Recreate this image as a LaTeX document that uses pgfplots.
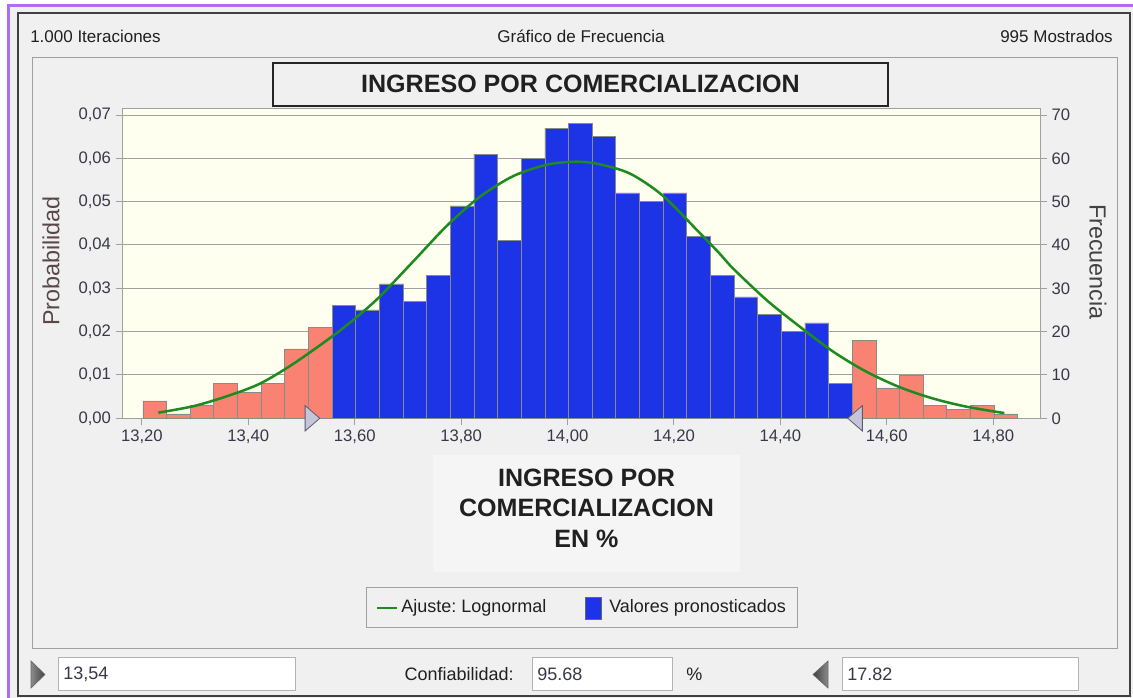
\documentclass[border=0pt]{standalone}
\usepackage{pgfplots}
\pgfplotsset{compat=1.18}
\usepackage{pgfplotstable}
\usepackage{fontspec}
\setmainfont{Liberation Sans}
\frenchspacing
\definecolor{bg}{HTML}{F0F0F0}
\definecolor{xlbg}{HTML}{F5F5F5}
\definecolor{plotbg}{HTML}{FFFFF0}
\definecolor{gridc}{HTML}{A0A0A0}
\definecolor{salmon}{HTML}{F98272}
\definecolor{barblue}{HTML}{1C33E6}
\definecolor{baredge}{HTML}{8A8A8A}
\definecolor{fitgreen}{HTML}{1F8A1F}
\definecolor{purp}{HTML}{B06CF0}
\definecolor{tickc}{HTML}{383848}
\definecolor{txt}{HTML}{202020}
\definecolor{probc}{HTML}{5A4848}
\definecolor{trifill}{HTML}{C4C4DA}
\definecolor{tridraw}{HTML}{5C5C6C}
\newcommand\hdr{\fontsize{12.75}{15}\selectfont}
\newcommand\ttl{\fontsize{18.8}{22}\selectfont\bfseries}
\newcommand\tck{\fontsize{12.5}{14}\selectfont}
\newcommand\lab{\fontsize{17.5}{20}\selectfont}
\newcommand\leg{\fontsize{13.5}{16}\selectfont}

% histogram bins (left edge, frequency); last row = right edge
\pgfplotstableread{
x y
13.2020 4
13.2464 1
13.2909 3
13.3353 8
13.3798 6
13.4242 8
13.4686 16
13.5131 21
13.5575 21
}\lefttail
\pgfplotstableread{
x y
13.5575 26
13.6020 25
13.6464 31
13.6908 27
13.7353 33
13.7797 49
13.8242 61
13.8686 41
13.9130 60
13.9575 67
14.0019 68
14.0464 65
14.0908 52
14.1352 50
14.1797 52
14.2241 42
14.2686 33
14.3130 28
14.3574 24
14.4019 20
14.4463 22
14.4908 8
14.5352 8
}\middata
\pgfplotstableread{
x y
14.5352 18
14.5796 7
14.6241 10
14.6685 3
14.7130 2
14.7574 3
14.8018 1
14.8463 1
}\righttail
\pgfplotstableread{
x y
13.231 1.3
13.297 2.8
13.360 5.1
13.422 8.0
13.485 12.6
13.561 19.2
13.610 24.0
13.648 28.2
13.710 36.2
13.773 44.4
13.835 51.1
13.898 55.9
13.960 58.5
14.010 59.2
14.054 58.8
14.117 56.5
14.179 51.4
14.242 43.6
14.286 38.0
14.311 34.6
14.374 27.3
14.436 21.2
14.499 15.4
14.561 10.8
14.624 7.2
14.686 4.6
14.749 2.7
14.821 1.2
}\fitdata

\begin{document}
\begin{tikzpicture}
\begin{scope}[x=0.75pt,y=-0.75pt]
\path[use as bounding box] (0,0) rectangle (1133,698);
\fill[white] (0,0) rectangle (1133,698);
\fill[bg] (10,7) rectangle (1133,698);
\fill[purp] (7,4) rectangle (1133,7);
\fill[purp] (7,4) rectangle (10,698);
\draw[black!75, line width=1.1pt] (18,13) rectangle (1130,696);
\draw[gridc, line width=0.75pt] (32,58) rectangle (1117,649);
% header
\node[inner sep=0pt, anchor=base west, font=\hdr, text=txt] at (30,43) {1.000 Iteraciones};
\node[inner sep=0pt, anchor=base, font=\hdr, text=txt] at (581,43) {Gráfico de Frecuencia};
\node[inner sep=0pt, anchor=base east, font=\hdr, text=txt] at (1113,43) {995 Mostrados};
% title box
\draw[black!85, line width=1.3pt, fill=bg] (273,63) rectangle (888,106);
\node[inner sep=0pt, anchor=base, font=\ttl, text=txt] at (580.5,92.5) {INGRESO POR COMERCIALIZACION};
% x label
\fill[xlbg] (433,455) rectangle (740,572);
\node[inner sep=0pt, anchor=base, font=\ttl, text=txt] at (586.5,487) {INGRESO POR};
\node[inner sep=0pt, anchor=base, font=\ttl, text=txt] at (586.5,516.5) {COMERCIALIZACION};
\node[inner sep=0pt, anchor=base, font=\ttl, text=txt] at (586.5,548) {EN \%};
% axis labels
\node[inner sep=0pt, rotate=90, font=\lab, text=probc] at (51,261) {Probabilidad};
\node[inner sep=0pt, rotate=-90, font=\lab, text=txt!85] at (1098,262) {Frecuencia};
% legend
\draw[gridc, line width=0.75pt, fill=bg] (366,588) rectangle (797,628);
\draw[fitgreen, line width=2pt] (377,608) -- (397,608);
\node[inner sep=0pt, anchor=west, font=\leg, text=txt] at (401,608) {Ajuste: Lognormal};
\filldraw[fill=barblue, draw=black!60, line width=0.6pt] (585,597) rectangle (601,619);
\node[inner sep=0pt, anchor=west, font=\leg, text=txt] at (609,608) {Valores pronosticados};
% bottom row
\shade[left color=black!45, right color=black!75] (31,661) -- (45,674.5) -- (31,688) -- cycle;
\draw[black!60, line width=0.5pt] (31,661) -- (45,674.5) -- (31,688) -- cycle;
\draw[gridc!80, line width=0.75pt, fill=white] (58,658) rectangle (295,691);
\node[inner sep=0pt, anchor=west, font=\leg, text=tickc] at (63,674.5) {13,54};
\node[inner sep=0pt, anchor=east, font=\leg, text=txt] at (514,674.5) {Confiabilidad:};
\draw[gridc!80, line width=0.75pt, fill=white] (532,658) rectangle (672,691);
\node[inner sep=0pt, anchor=west, font=\leg, text=tickc] at (537,674.5) {95.68};
\node[inner sep=0pt, anchor=west, font=\leg, text=txt] at (686,674.5) {\%};
\shade[left color=black!75, right color=black!45] (828,661) -- (813,674.5) -- (828,688) -- cycle;
\draw[black!60, line width=0.5pt] (828,661) -- (813,674.5) -- (828,688) -- cycle;
\draw[gridc!80, line width=0.75pt, fill=white] (842,658) rectangle (1078,691);
\node[inner sep=0pt, anchor=west, font=\leg, text=tickc] at (847,674.5) {17.82};
\coordinate (SW) at (122.7,418.3);
\end{scope}

\begin{axis}[
  at={(SW)}, anchor=south west, scale only axis,
  width=687.98pt, height=232.5pt,
  xmin=13.164, xmax=14.888, ymin=0, ymax=71.55,
  axis background/.style={fill=plotbg},
  axis line style={draw=gridc, line width=0.75pt},
  xtick={13.2,13.4,13.6,13.8,14.0,14.2,14.4,14.6,14.8},
  ytick={0,10,20,30,40,50,60,70},
  xtick pos=left, ytick pos=right, yticklabel pos=right,
  tick align=outside, major tick length=5.25pt,
  tick style={draw=gridc, line width=0.75pt},
  ymajorgrids, major grid style={draw=gridc, line width=0.75pt},
  ticklabel style={font=\tck, text=tickc},
  xticklabel style={/pgf/number format/.cd, fixed, fixed zerofill, precision=2, use comma},
  /pgf/number format/assume math mode=true,
  clip=false,
]
\addplot[ybar interval, fill=salmon, draw=baredge, line width=0.6pt] table {\lefttail};
\addplot[ybar interval, fill=barblue, draw=baredge, line width=0.6pt] table {\middata};
\addplot[ybar interval, fill=salmon, draw=baredge, line width=0.6pt] table {\righttail};
\addplot[fitgreen, line width=1.9pt, smooth] table {\fitdata};
\addplot[only marks, mark=triangle*, mark size=11pt,
  mark options={fill=trifill, draw=tridraw, line width=0.6pt, rotate=-90, yscale=0.667}]
  coordinates {(13.516,0)};
\addplot[only marks, mark=triangle*, mark size=11pt,
  mark options={fill=trifill, draw=tridraw, line width=0.6pt, rotate=90, yscale=0.667}]
  coordinates {(14.545,0)};
\end{axis}

\begin{axis}[
  at={(SW)}, anchor=south west, scale only axis,
  width=687.98pt, height=232.5pt,
  xmin=13.164, xmax=14.888, ymin=0, ymax=0.07155,
  hide x axis, axis line style={draw=none},
  ytick={0,0.01,0.02,0.03,0.04,0.05,0.06,0.07},
  ytick pos=left, yticklabel pos=left, scaled y ticks=false,
  tick align=outside, major tick length=5.25pt,
  tick style={draw=gridc, line width=0.75pt},
  ticklabel style={font=\tck, text=tickc},
  yticklabel style={/pgf/number format/.cd, fixed, fixed zerofill, precision=2, use comma},
  /pgf/number format/assume math mode=true,
]
\end{axis}
\end{tikzpicture}
\end{document}
